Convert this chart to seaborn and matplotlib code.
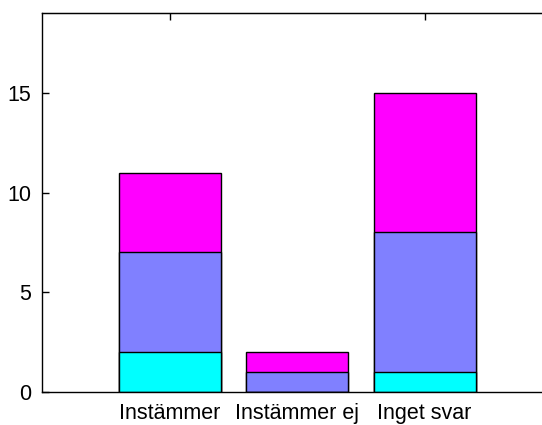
import matplotlib
matplotlib.use("Agg")
import matplotlib.pyplot as plt
import seaborn as sns
import pandas as pd
import numpy as np

categories = ["Instämmer", "Instämmer ej", "Inget svar"]
cyan_vals = [2, 0, 1]
blue_vals = [5, 1, 7]
magenta_vals = [4, 1, 7]
colors = ["#00FFFF", "#8080FF", "#FF00FF"]

sns.set_style("white")
plt.rcParams["font.family"] = ["Liberation Sans", "DejaVu Sans"]
plt.rcParams["text.color"] = "black"
plt.rcParams["xtick.color"] = "black"
plt.rcParams["ytick.color"] = "black"

fig = plt.figure(figsize=(5.42, 4.25), dpi=100)
ax = fig.add_axes([42/542, 33/425, 510/542, 379/425])

c1 = np.array(cyan_vals)
c2 = c1 + np.array(blue_vals)
c3 = c2 + np.array(magenta_vals)

for tops, col in [(c3, colors[2]), (c2, colors[1]), (c1, colors[0])]:
    df = pd.DataFrame({"cat": categories, "val": tops})
    sns.barplot(data=df, x="cat", y="val", color=col, saturation=1,
                width=0.8, edgecolor="black", linewidth=1, ax=ax)

ax.set_xlim(-1, 3)
ax.set_ylim(0, 19)
ax.set_yticks([0, 5, 10, 15])
ax.set_xlabel("")
ax.set_ylabel("")
for s in ax.spines.values():
    s.set_color("black")
    s.set_linewidth(1)
ax.spines["right"].set_visible(False)
ax.tick_params(axis="y", direction="in", length=5, width=1, pad=8, labelsize=15.5, left=True)
ax.tick_params(axis="x", length=0, pad=8, labelsize=15.5)
sec = ax.secondary_xaxis("top")
sec.set_xticks([0, 2])
sec.set_xticklabels([])
sec.tick_params(direction="in", length=5, width=1)
fig.savefig("out.png", dpi=100)
